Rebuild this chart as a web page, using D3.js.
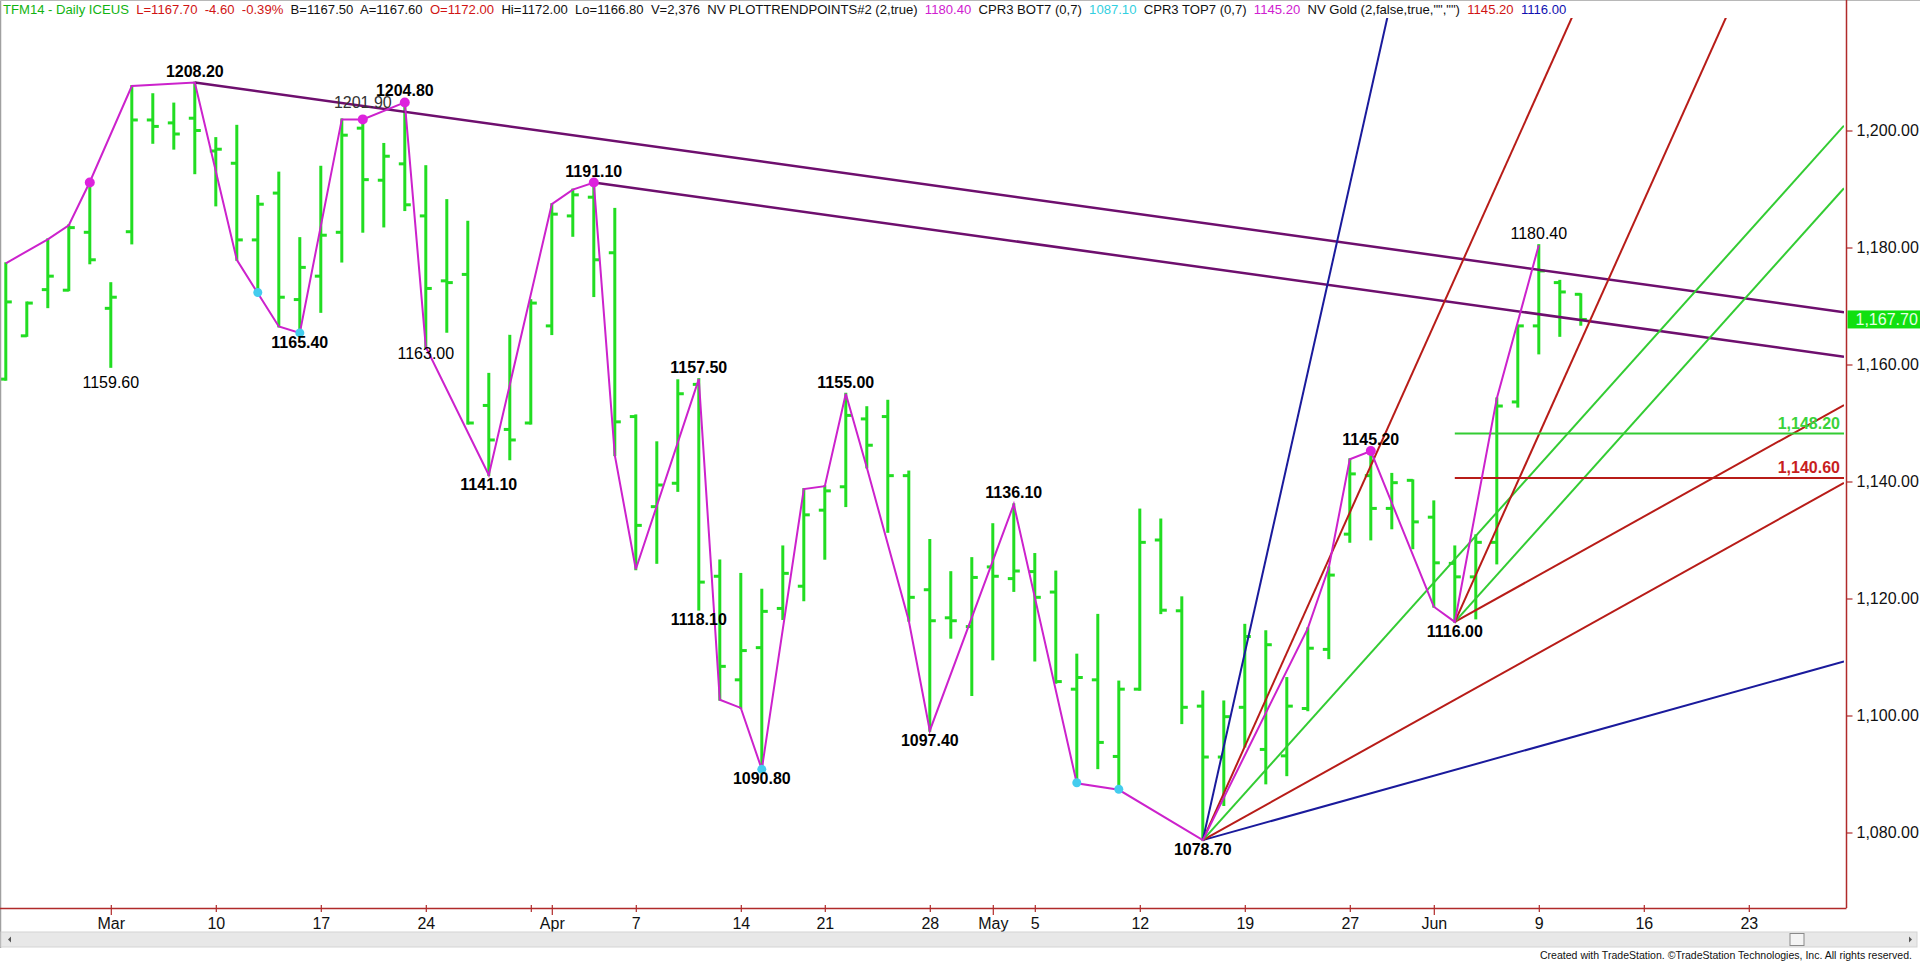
<!DOCTYPE html>
<html><head><meta charset="utf-8">
<script src="https://cdn.jsdelivr.net/npm/d3@7"></script>
<style>
html,body{margin:0;padding:0;background:#fff;overflow:hidden}
svg{display:block}
text{font-family:Arial,"Liberation Sans",sans-serif}
</style>
</head><body>
<svg id="c" width="1920" height="964"></svg>
<script>
// ---------------- DATA ----------------
const sessions = [
 "02-24","02-25","02-26","02-27","02-28",
 "03-03","03-04","03-05","03-06","03-07",
 "03-10","03-11","03-12","03-13","03-14",
 "03-17","03-18","03-19","03-20","03-21",
 "03-24","03-25","03-26","03-27","03-28",
 "03-31","04-01","04-02","04-03","04-04",
 "04-07","04-08","04-09","04-10","04-11",
 "04-14","04-15","04-16","04-17",
 "04-21","04-22","04-23","04-24","04-25",
 "04-28","04-29","04-30","05-01","05-02",
 "05-05","05-06","05-07","05-08","05-09",
 "05-12","05-13","05-14","05-15","05-16",
 "05-19","05-20","05-21","05-22","05-23",
 "05-27","05-28","05-29","05-30",
 "06-02","06-03","06-04","06-05","06-06",
 "06-09","06-10","06-11","06-12","06-13",
 "06-16","06-17","06-18","06-19","06-20",
 "06-23","06-24","06-25","06-26","06-27"
];
const barOpen = [1157.5,1164.9,1172.8,1172.7,1182.6,1169.6,1182.7,1201.8,1201.3,1202.1,
 1196.5,1194.4,1181.3,1189.3,1171.1,1175.1,1182.6,1200.4,1191.5,1194.3,
 1185.4,1174.3,1175.4,1153.0,1148.9,1150.0,1166.6,1185.4,1188.6,1179.1,
 1151.1,1135.7,1139.7,1156.6,1123.8,1106.1,1111.6,1118.3,1122.1,1135.1,
 1139.1,1150.7,1151.1,1141.0,1121.5,1116.7,1115.2,1125.4,1123.4,1124.6,
 1121.1,1104.5,1106.1,1093.0,1104.5,1130.0,1117.9,1101.6,1092.9,1101.4,
 1094.2,1093.1,1101.2,1111.3,1131.0,1141.0,1135.4,1140.2,1133.9,1126.0,
 1123.7,1129.6,1153.6,1166.6,1174.0,1172.0];
const barHigh = [1177.3,1170.6,1181.4,1183.8,1191.3,1173.9,1207.6,1206.2,1204.6,1208.2,
 1198.7,1200.8,1188.8,1192.8,1181.6,1193.8,1201.9,1201.9,1197.7,1204.8,
 1193.9,1188.1,1184.4,1158.4,1164.9,1171.0,1187.4,1189.9,1191.1,1186.6,
 1151.3,1146.7,1157.3,1157.5,1126.5,1124.2,1121.5,1128.9,1138.7,1139.2,
 1155.0,1152.7,1153.8,1141.7,1130.0,1124.5,1126.9,1132.7,1136.1,1127.6,
 1124.6,1110.4,1117.2,1105.8,1135.2,1133.5,1120.2,1104.1,1102.4,1115.5,
 1114.4,1106.4,1114.9,1125.3,1143.8,1145.2,1141.3,1140.2,1136.6,1128.9,
 1130.8,1154.2,1166.6,1180.4,1174.3,1172.0];
const barLow = [1157.4,1164.9,1169.8,1172.7,1177.3,1159.6,1180.7,1197.9,1196.9,1192.7,
 1187.2,1177.9,1172.5,1166.5,1165.4,1169.0,1177.6,1182.7,1183.6,1186.4,
 1163.0,1165.6,1149.9,1141.1,1143.8,1149.9,1165.2,1182.0,1171.7,1144.5,
 1125.0,1126.1,1138.4,1118.1,1102.7,1101.3,1090.8,1116.5,1119.7,1126.8,
 1135.8,1142.4,1131.4,1116.2,1097.4,1113.3,1103.5,1109.6,1121.3,1109.4,
 1105.6,1088.4,1091.0,1087.3,1104.4,1117.5,1098.7,1078.7,1084.7,1094.7,
 1088.4,1089.8,1100.9,1109.8,1129.7,1130.1,1132.0,1128.6,1118.6,1116.0,
 1116.6,1126.0,1152.8,1161.9,1164.9,1166.8];
const barClose = [1170.7,1170.5,1175.1,1183.4,1177.9,1171.5,1201.8,1200.7,1199.4,1200.0,
 1196.8,1181.3,1187.4,1171.5,1176.6,1182.1,1199.2,1191.6,1195.6,1187.3,
 1173.0,1174.0,1150.0,1147.1,1147.1,1170.5,1185.7,1189.0,1177.9,1150.2,
 1132.5,1139.4,1155.0,1122.8,1108.4,1111.1,1117.8,1124.3,1134.3,1138.4,
 1151.3,1146.2,1141.0,1120.2,1116.2,1116.2,1123.6,1123.8,1124.7,1120.2,
 1105.8,1106.5,1095.4,1104.5,1129.6,1118.0,1101.4,1092.9,1099.8,1113.5,
 1112.1,1101.6,1111.5,1124.0,1141.3,1135.4,1139.8,1133.1,1126.1,1123.7,
 1129.6,1152.9,1166.6,1176.0,1172.4,1167.7];

const yTicks = [1080,1100,1120,1140,1160,1180,1200];
const xTickDates  = ["03-03","03-10","03-17","03-24","03-31","04-01","04-07","04-14","04-21","04-28","05-01","05-05","05-12","05-19","05-27","06-02","06-09","06-16","06-23"];
const xTickLabels = ["Mar","10","17","24","","Apr","7","14","21","28","May","5","12","19","27","Jun","9","16","23"];
const monthLabels = ["Mar","Apr","May","Jun"];

// swing (trend points) zigzag
const zigDates  = ["02-24","02-26","02-27","02-28","03-04","03-07","03-11","03-13","03-14","03-18","03-19","03-21","03-24","03-27","04-01","04-02","04-03","04-04","04-07","04-10","04-11","04-14","04-15","04-17","04-21","04-22","04-23","04-25","04-28","05-02","05-07","05-09","05-15","05-22","05-23","05-27","05-28","06-02","06-03","06-05","06-09"];
const zigPrices = [1177.3,1181.4,1183.8,1191.2,1207.6,1208.2,1177.9,1166.5,1165.4,1201.9,1201.9,1204.8,1163.0,1141.1,1187.4,1189.9,1191.1,1144.5,1125.0,1157.5,1102.7,1101.3,1090.8,1138.7,1139.2,1155.0,1142.4,1116.2,1097.4,1136.1,1088.4,1087.3,1078.7,1114.9,1125.3,1143.8,1145.2,1118.6,1116.0,1154.2,1180.4];
const topDotDates  = ["02-28","03-19","03-21","04-03","05-28"];
const topDotPrices = [1191.1,1201.9,1204.8,1191.1,1145.2];
const botDotDates  = ["03-12","03-14","04-15","05-07","05-09"];
const botDotPrices = [1172.3,1165.4,1090.8,1088.5,1087.4];

// descending channel (slope in price per session)
const channelDates  = ["03-07","04-03"];
const channelPrices = [1208.2,1191.1];
const channelSlope  = -0.5;

// angle fans
const fanOriginDates  = ["05-15","06-03"];
const fanOriginPrices = [1078.7,1116.0];
const fanSlopesA = [1,2,4,8,16];
const fanSlopesB = [2,4,8];

// horizontal levels
const levelValues = [1148.2,1140.6];
const levelLabels = ["1,148.20","1,140.60"];
const levelStart  = "06-03";

// pivot value labels
const pivotDates  = ["03-07","03-19","03-21","03-14","03-03","03-24","04-03","03-27","04-10","04-10","04-22","04-15","04-28","05-02","05-15","05-28","06-03","06-09"];
const pivotValues = [1208.2,1201.9,1204.8,1165.4,1159.6,1163.0,1191.1,1141.1,1157.5,1118.1,1155.0,1090.8,1097.4,1136.1,1078.7,1145.2,1116.0,1180.4];
const pivotSides  = ["above","above","above","below","below","below","above","below","above","below","above","below","below","above","below","above","below","above"];

const lastPrice = 1167.7;

const headerParts = [
 ["TFM14 - Daily ICEUS","g"],["  L=1167.70  -4.60  -0.39%","r"],["  B=1167.50  A=1167.60","k"],["  O=1172.00","r"],
 ["  Hi=1172.00  Lo=1166.80  V=2,376  NV PLOTTRENDPOINTS#2 (2,true)","k"],["  1180.40","m"],["  CPR3 BOT7 (0,7)","k"],
 ["  1087.10","c"],["  CPR3 TOP7 (0,7)","k"],["  1145.20","m"],["  NV Gold (2,false,true,\"\",\"\")","k"],["  1145.20","r"],["  1116.00","b"]
];

// ---------------- STYLE / LAYOUT ----------------
const C = {bar:"#22dd22", zig:"#cc22cc", chan:"#6e0f6e", blue:"#1a1a9c", red:"#b81c18", green:"#33cc33",
  axis:"#b02a2a", cyan:"#44ccee", mag:"#dd22dd",
  hdr:{g:"#12b312",r:"#d01414",k:"#111",m:"#d020d0",c:"#33cfe0",b:"#1010b0"}};
const fanColor = {1:C.blue,2:C.red,4:C.green,8:C.red,16:C.blue};
const labelStyle = {"1201.90":{w:"normal",dy:-5.5,fill:"#333"},"1159.60":{w:"normal",dy:6.5},"1163.00":{w:"normal",dy:-2.5},"1180.40":{w:"normal",dy:0}};

const plotL=0, plotR=1844, plotT=18, plotB=908, axisX=1846.5;
const svg = d3.select("#c");
svg.append("rect").attr("width",1920).attr("height",964).attr("fill","#fff");

const x = d3.scaleLinear().domain([0,1]).range([5.8,26.8]);
const y = d3.scaleLinear().domain([1080,1200]).range([832.5,130.5]);
const si = d => sessions.indexOf(d);
const idxR = x.invert(plotR);

svg.append("clipPath").attr("id","clip").append("rect")
  .attr("x",plotL).attr("y",plotT).attr("width",plotR-plotL).attr("height",plotB-plotT);
const g = svg.append("g").attr("clip-path","url(#clip)");

// frame
svg.append("line").attr("x1",0.5).attr("x2",0.5).attr("y1",0).attr("y2",948).attr("stroke","#a0a0a0").attr("stroke-width",1.5);
svg.append("line").attr("x1",0).attr("x2",1920).attr("y1",0.5).attr("y2",0.5).attr("stroke","#b8b8b8").attr("stroke-width",1);

// bars
const bars = g.append("g").attr("stroke",C.bar).attr("stroke-width",3);
barOpen.forEach((o,i)=>{
  const xi = x(i);
  bars.append("line").attr("x1",xi).attr("x2",xi).attr("y1",y(barHigh[i])-1).attr("y2",y(barLow[i])+1);
  bars.append("line").attr("x1",xi-6).attr("x2",xi).attr("y1",y(o)).attr("y2",y(o));
  bars.append("line").attr("x1",xi).attr("x2",xi+6).attr("y1",y(barClose[i])).attr("y2",y(barClose[i]));
});

// channel
channelDates.forEach((d,k)=>{
  const i0 = si(d), p0 = channelPrices[k];
  g.append("line").attr("x1",x(i0)).attr("y1",y(p0)).attr("x2",x(idxR)).attr("y2",y(p0+channelSlope*(idxR-i0)))
   .attr("stroke",C.chan).attr("stroke-width",2.5);
});

// fans
[[fanSlopesA,0],[fanSlopesB,1]].forEach(([slopes,k])=>{
  const i0 = si(fanOriginDates[k]), p0 = fanOriginPrices[k];
  slopes.forEach(s=>{
    g.append("line").attr("x1",x(i0)).attr("y1",y(p0)).attr("x2",x(idxR)).attr("y2",y(p0+s*(idxR-i0)))
     .attr("stroke",fanColor[s]).attr("stroke-width",2);
  });
});

// levels
levelValues.forEach((v,k)=>{
  const col = k===0?C.green:C.red;
  g.append("line").attr("x1",x(si(levelStart))).attr("x2",plotR).attr("y1",y(v)).attr("y2",y(v)).attr("stroke",col).attr("stroke-width",2);
  svg.append("text").attr("x",plotR-4).attr("y",y(v)-10).attr("text-anchor","end").attr("dominant-baseline","central")
    .attr("font-size",16).attr("font-weight","bold").attr("fill",k===0?"#3ad23a":"#c81e1e").text(levelLabels[k]);
});

// zigzag
const zl = d3.line().x(d=>x(si(d[0]))).y(d=>y(d[1]));
g.append("path").attr("d",zl(zigDates.map((d,i)=>[d,zigPrices[i]]))).attr("fill","none").attr("stroke",C.zig).attr("stroke-width",2);
topDotDates.forEach((d,i)=>g.append("circle").attr("cx",x(si(d))).attr("cy",y(topDotPrices[i])).attr("r",5).attr("fill",C.mag));
botDotDates.forEach((d,i)=>g.append("circle").attr("cx",x(si(d))).attr("cy",y(botDotPrices[i])).attr("r",4.5).attr("fill",C.cyan));

// pivot labels
pivotDates.forEach((d,i)=>{
  const txt = pivotValues[i].toFixed(2);
  const st = labelStyle[txt]||{w:"bold",dy:0};
  const above = pivotSides[i]==="above";
  const yy = above ? y(pivotValues[i])-11.5 : y(pivotValues[i])+9.5;
  svg.append("text").attr("x",x(si(d))).attr("y",yy+(st.dy||0)).attr("text-anchor","middle").attr("dominant-baseline","central")
    .attr("font-size",16).attr("font-weight",st.w).attr("fill",st.fill||"#000").text(txt);
});

// axes
svg.append("line").attr("x1",axisX).attr("x2",axisX).attr("y1",0).attr("y2",plotB).attr("stroke",C.axis).attr("stroke-width",1.5);
svg.append("line").attr("x1",0).attr("x2",axisX).attr("y1",plotB+0.5).attr("y2",plotB+0.5).attr("stroke",C.axis).attr("stroke-width",1.5);
const ya = svg.append("g").attr("transform",`translate(${axisX},0)`)
  .call(d3.axisRight(y).tickValues(yTicks).tickSize(6).tickPadding(4).tickFormat(d3.format(",.2f")));
ya.select(".domain").remove();
ya.selectAll(".tick line").attr("stroke",C.axis).attr("stroke-width",1.2);
ya.selectAll(".tick text").attr("font-size",16).attr("fill","#111").attr("font-family","Arial,'Liberation Sans',sans-serif");

const xa = svg.append("g").attr("transform",`translate(0,${plotB})`)
  .call(d3.axisBottom(x).tickValues(xTickDates.map(si)).tickSize(0).tickPadding(10).tickFormat((d,i)=>xTickLabels[i]));
xa.select(".domain").remove();
xa.selectAll(".tick text").attr("font-size",16).attr("fill","#111").attr("font-family","Arial,'Liberation Sans',sans-serif");
xa.selectAll(".tick").append("line").attr("stroke",C.axis).attr("stroke-width",1.2)
  .attr("y1",-3).attr("y2",(d,i)=>monthLabels.includes(xTickLabels[i])?7:4);

// last price box
svg.append("rect").attr("x",axisX+1).attr("y",y(lastPrice)-9).attr("width",1920-axisX).attr("height",18).attr("fill","#10e010");
svg.append("text").attr("x",axisX+9).attr("y",y(lastPrice)).attr("dominant-baseline","central").attr("font-size",16).attr("fill","#e6ffe6").text(d3.format(",.2f")(lastPrice));

// header
const ht = svg.append("text").attr("x",3).attr("y",14).attr("font-size",13.1).attr("xml:space","preserve").style("white-space","pre");
headerParts.forEach(([t,c])=>ht.append("tspan").attr("fill",C.hdr[c]).text(t));

// scrollbar
svg.append("rect").attr("x",1).attr("y",932).attr("width",1916).attr("height",15).attr("fill","#e8e8e8").attr("stroke","#d4d4d4");
svg.append("rect").attr("x",1790).attr("y",933.5).attr("width",14).attr("height",12).attr("fill","#f4f4f4").attr("stroke","#8a8a8a");
svg.append("path").attr("d","M8,939.5 L11,936.5 L11,942.5 Z").attr("fill","#555");
svg.append("path").attr("d","M1912,939.5 L1909,936.5 L1909,942.5 Z").attr("fill","#555");

// footer
svg.append("text").attr("x",1912).attr("y",958.5).attr("text-anchor","end").attr("font-size",10.5).attr("fill","#111")
  .attr("textLength",372).attr("lengthAdjust","spacingAndGlyphs")
  .text("Created with TradeStation. \u00A9TradeStation Technologies, Inc. All rights reserved.");
</script>
</body></html>
